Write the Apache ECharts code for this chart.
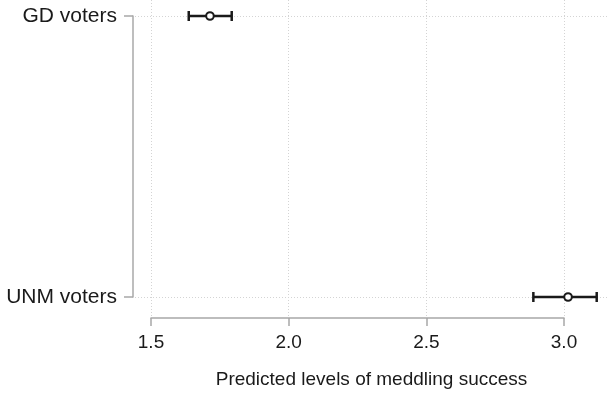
<!DOCTYPE html>
<html>
<head>
<meta charset="utf-8">
<script src="https://cdn.jsdelivr.net/npm/echarts@6/dist/echarts.min.js"></script>
<style>
html,body{margin:0;padding:0;background:#fff;}
#chart{width:608px;height:394px;}
</style>
</head>
<body>
<div id="chart"></div>
<script>
// groups, bottom to top
var groups = ['UNM voters', 'GD voters'];
var estimate = [3.014, 1.714];
var lower = [2.888, 1.637];
var upper = [3.118, 1.793];
var xTicks = [1.5, 2.0, 2.5, 3.0];

var fontName = 'Liberation Sans';
var txt = '#1a1a1a';
var axisGrey = '#a8a8a8';
var gridGrey = '#d4d4d4';

var data = [];
for (var i = 0; i < groups.length; i++) {
    data.push([i, lower[i], estimate[i], upper[i]]);
}

var chart = echarts.init(document.getElementById('chart'));

function renderBar(params, api) {
    var y = api.value(0);
    var lo = api.coord([api.value(1), y]);
    var mid = api.coord([api.value(2), y]);
    var hi = api.coord([api.value(3), y]);
    var cap = 5;
    var st = {stroke: txt, lineWidth: 2.5};
    return {
        type: 'group',
        children: [
            {type: 'line', shape: {x1: lo[0], y1: lo[1], x2: hi[0], y2: hi[1]}, style: st},
            {type: 'line', shape: {x1: lo[0], y1: lo[1] - cap, x2: lo[0], y2: lo[1] + cap}, style: st},
            {type: 'line', shape: {x1: hi[0], y1: hi[1] - cap, x2: hi[0], y2: hi[1] + cap}, style: st},
            {type: 'circle', shape: {cx: mid[0], cy: mid[1], r: 3.8}, style: {fill: '#fff', stroke: txt, lineWidth: 2}}
        ]
    };
}

var option = {
    animation: false,
    grid: [
        {left: 135, right: 0, top: 16, bottom: 95},
        {left: 151, right: 44, top: 0, bottom: 76}
    ],
    xAxis: [
        {
            gridIndex: 0, type: 'value',
            min: 1.4419, max: 3.159,
            axisLine: {show: false}, axisTick: {show: false},
            axisLabel: {show: false}, splitLine: {show: false},
            name: 'Predicted levels of meddling success',
            nameLocation: 'middle', nameGap: 73,
            nameTextStyle: {fontFamily: fontName, fontSize: 19, color: txt}
        },
        {
            gridIndex: 1, type: 'value',
            min: xTicks[0], max: xTicks[xTicks.length - 1], interval: 0.5,
            axisLine: {show: true, lineStyle: {color: axisGrey, width: 1.5}},
            axisTick: {show: true, length: 8, lineStyle: {color: axisGrey, width: 1.5}},
            axisLabel: {
                fontFamily: fontName, fontSize: 19, color: txt, margin: 15,
                formatter: function (v) { return v.toFixed(1); }
            },
            splitLine: {show: true, lineStyle: {color: gridGrey, type: [1, 2], width: 1}}
        }
    ],
    yAxis: [
        {
            gridIndex: 0, type: 'category', data: groups,
            boundaryGap: false, offset: 2,
            axisLine: {show: true, lineStyle: {color: axisGrey, width: 1.5}},
            axisTick: {show: true, length: 9, lineStyle: {color: axisGrey, width: 1.5}},
            axisLabel: {fontFamily: fontName, fontSize: 21, color: txt, margin: 16},
            splitLine: {show: true, lineStyle: {color: gridGrey, type: [1, 2], width: 1}}
        },
        {
            gridIndex: 1, type: 'value', show: false
        }
    ],
    series: [{
        type: 'custom',
        xAxisIndex: 0, yAxisIndex: 0,
        renderItem: renderBar,
        encode: {x: [1, 2, 3], y: 0},
        data: data,
        z: 10
    }]
};

chart.setOption(option);
</script>
</body>
</html>
